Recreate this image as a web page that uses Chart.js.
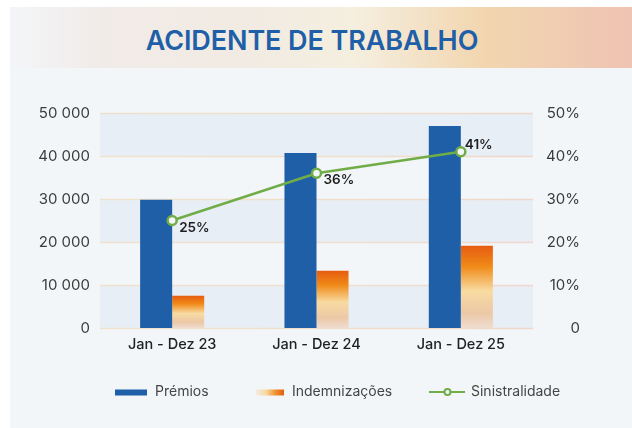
<!DOCTYPE html>
<html><head><meta charset="utf-8">
<script src="https://cdn.jsdelivr.net/npm/chart.js@4"></script>
<style>
html,body{margin:0;padding:0;background:#fff;width:632px;height:428px;overflow:hidden;font-family:Inter,sans-serif}
#card{position:absolute;left:10px;top:7px;width:622px;height:421px;background:#f3f6f9}
#banner{position:absolute;left:10px;top:7px;width:622px;height:61px;
background:linear-gradient(90deg,#f3f5f8 0%,#f1ebe8 15%,#f2ebe2 40%,#f5efe0 55%,#f2d6b0 76%,#efc3b2 100%)}
#title{position:absolute;left:0;width:624px;top:24px;text-align:center;font:600 27px Inter,sans-serif;color:#1f5fa8;letter-spacing:-0.1px}
canvas{position:absolute;left:0;top:0}
</style></head>
<body>
<div id="card"></div><div id="banner"></div>
<div id="title">ACIDENTE DE TRABALHO</div>
<canvas id="c" width="632" height="428"></canvas>
<script>
const categories = ['Jan - Dez 23','Jan - Dez 24','Jan - Dez 25'];
const premios = [29800, 40700, 47000];
const indemnizacoes = [7500, 13300, 19100];
const sinistralidade = [25, 36, 41];
const leftTicks = [0, 10000, 20000, 30000, 40000, 50000];
const rightTicks = [0, 10, 20, 30, 40, 50];
const labelPlacement = ['below','below','above'];

const BLUE = '#1f5fa8', GREEN = '#70ad47';

function indGradient(ctx){
  const chart = ctx.chart;
  if (!chart.chartArea || ctx.dataIndex === undefined) return '#f08a1a';
  const y = chart.scales.y;
  const top = y.getPixelForValue(indemnizacoes[ctx.dataIndex]);
  const bot = y.getPixelForValue(0);
  const g = chart.ctx.createLinearGradient(0, top, 0, bot);
  g.addColorStop(0, '#e65c10');
  g.addColorStop(0.25, '#f08a18');
  g.addColorStop(0.55, '#f8dba2');
  g.addColorStop(0.82, '#ecc8a6');
  g.addColorStop(1, '#efdcd0');
  return g;
}

const fmt = v => String(v).replace(/\B(?=(\d{3})+(?!\d))/g, ' ');

const bandsPlugin = {
  id:'bands',
  beforeDatasetsDraw(chart){
    const {ctx, chartArea:a, scales:{y}} = chart;
    ctx.save();
    for (let i = 0; i < leftTicks.length - 1; i++){
      if (i % 2 === 0){
        const y1 = y.getPixelForValue(leftTicks[i]);
        const y2 = y.getPixelForValue(leftTicks[i+1]);
        ctx.fillStyle = '#e8eef6';
        ctx.fillRect(a.left, y2, a.right - a.left, y1 - y2);
      }
    }
    ctx.lineWidth = 1.6;
    const lg = ctx.createLinearGradient(a.left,0,a.right,0);
    lg.addColorStop(0,'#efe2cc'); lg.addColorStop(0.6,'#efdfcb'); lg.addColorStop(1,'#f0d6cc');
    ctx.strokeStyle = lg;
    leftTicks.forEach(t=>{
      const p = Math.round(y.getPixelForValue(t)) + 0.5;
      ctx.beginPath(); ctx.moveTo(a.left,p); ctx.lineTo(a.right,p); ctx.stroke();
    });
    ctx.restore();
  }
};

const labelsPlugin = {
  id:'ptLabels',
  afterDatasetsDraw(chart){
    const ctx = chart.ctx;
    const meta = chart.getDatasetMeta(2);
    ctx.save();
    ctx.font = '600 13.5px Inter, sans-serif';
    ctx.fillStyle = '#1e1e1e';
    ctx.textAlign = 'left';
    meta.data.forEach((pt,i)=>{
      const above = labelPlacement[i] === 'above';
      ctx.textBaseline = 'middle';
      ctx.fillText(sinistralidade[i] + '%', pt.x + (above ? 4 : 7), pt.y + (above ? -7 : 7));
    });
    ctx.restore();
  }
};

const legendPlugin = {
  id:'customLegend',
  afterDraw(chart){
    const ctx = chart.ctx;
    const yc = 392;
    ctx.save();
    ctx.font = '14px Inter, sans-serif';
    ctx.textBaseline = 'middle';
    ctx.textAlign = 'left';
    ctx.fillStyle = BLUE;
    ctx.fillRect(115, yc - 2.5, 32, 6);
    ctx.fillStyle = '#454545';
    ctx.fillText(chart.data.datasets[0].label, 155, yc);
    const g = ctx.createLinearGradient(256,0,284,0);
    g.addColorStop(0,'#f3ece6'); g.addColorStop(0.35,'#f8d9a0'); g.addColorStop(0.7,'#f09030'); g.addColorStop(1,'#e65c10');
    ctx.fillStyle = g;
    ctx.fillRect(256, yc - 2.5, 28, 6);
    ctx.fillStyle = '#454545';
    ctx.fillText(chart.data.datasets[1].label, 292, yc);
    ctx.strokeStyle = GREEN; ctx.lineWidth = 2;
    ctx.beginPath(); ctx.moveTo(429, yc); ctx.lineTo(465, yc); ctx.stroke();
    ctx.beginPath(); ctx.arc(447.5, yc, 3, 0, Math.PI*2);
    ctx.fillStyle = '#f3f6f9'; ctx.fill(); ctx.stroke();
    ctx.fillStyle = '#454545';
    ctx.fillText(chart.data.datasets[2].label, 471, yc);
    ctx.restore();
  }
};

new Chart(document.getElementById('c'), {
  data: {
    labels: categories,
    datasets: [
      {type:'bar', label:'Prémios', data:premios, backgroundColor:BLUE, yAxisID:'y',
       categoryPercentage:0.444, barPercentage:1.0, order:2},
      {type:'bar', label:'Indemnizações', data:indemnizacoes, backgroundColor:indGradient, yAxisID:'y',
       categoryPercentage:0.444, barPercentage:1.0, order:2},
      {type:'line', label:'Sinistralidade', data:sinistralidade, yAxisID:'y2',
       borderColor:GREEN, borderWidth:2.5, pointRadius:4.5, pointBorderWidth:2.5,
       pointBackgroundColor:'#f3f6f9', pointBorderColor:GREEN, tension:0, order:1}
    ]
  },
  options: {
    responsive:false, animation:false, devicePixelRatio:1,
    layout:{padding:{left:0, right:52, top:113, bottom:70}},
    plugins:{legend:{display:false}, tooltip:{enabled:false}},
    scales:{
      x:{
        grid:{display:false, drawTicks:false}, border:{display:false},
        ticks:{color:'#222', font:{family:'Inter', size:14.5, weight:500}, padding:8},
        afterFit(s){ s.height = 30; }
      },
      y:{
        position:'left', min:0, max:50000,
        afterBuildTicks(s){ s.ticks = leftTicks.map(v=>({value:v})); },
        grid:{display:false, drawTicks:false}, border:{display:false},
        ticks:{color:'#3c3c3c', font:{family:'Inter', size:15}, padding:10, callback:v=>fmt(v)},
        afterFit(s){ s.width = 100; }
      },
      y2:{
        position:'right', min:0, max:50,
        afterBuildTicks(s){ s.ticks = rightTicks.map(v=>({value:v})); },
        grid:{display:false, drawTicks:false}, border:{display:false},
        ticks:{color:'#3c3c3c', font:{family:'Inter', size:15}, padding:16, crossAlign:'far',
               callback:v=> v===0 ? '0' : v + '%'},
        afterFit(s){ s.width = 47; }
      }
    }
  },
  plugins:[bandsPlugin, labelsPlugin, legendPlugin]
});
</script>
</body></html>
